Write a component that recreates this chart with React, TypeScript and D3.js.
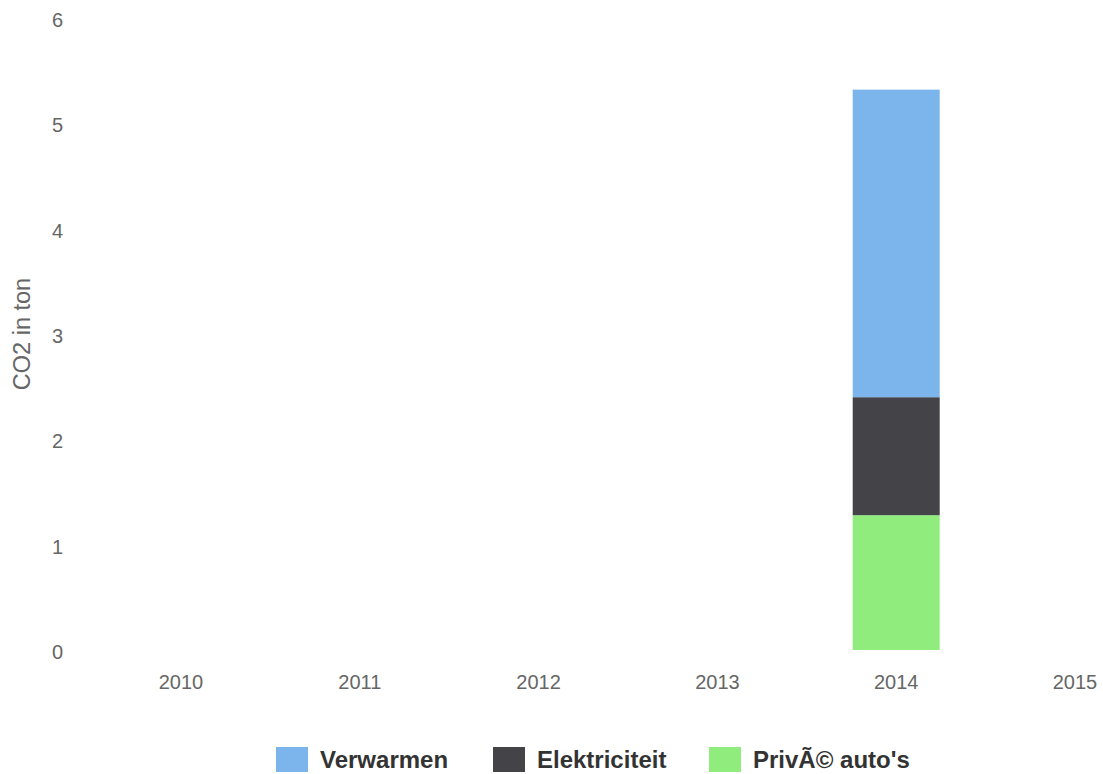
import React from "react";
import * as d3 from "d3";

const years = [2010, 2011, 2012, 2013, 2014, 2015];
const verwarmen: (number | null)[] = [null, null, null, null, 2.92, null];
const elektriciteit: (number | null)[] = [null, null, null, null, 1.12, null];
const priveAutos: (number | null)[] = [null, null, null, null, 1.28, null];
const yTicks = [0, 1, 2, 3, 4, 5, 6];

const seriesNames = ["Verwarmen", "Elektriciteit", "PrivÃ© auto's"];
const seriesColors = ["#7cb5ec", "#434348", "#90ed7d"];

const W = 1103;
const H = 774;

export default function App() {
  const x = d3.scaleLinear().domain([2010, 2015]).range([181, 1075]);
  const y = d3.scaleLinear().domain([0, 6]).range([650, 18]);
  const barW = 87;

  // stack order bottom -> top: Privé, Elektriciteit, Verwarmen
  const rows = years.map((yr, i) => ({
    year: yr,
    prive: priveAutos[i] ?? 0,
    elek: elektriciteit[i] ?? 0,
    verw: verwarmen[i] ?? 0,
  }));
  const stack = d3.stack<any>().keys(["prive", "elek", "verw"]);
  const stacked = stack(rows);
  const colorFor: Record<string, string> = {
    prive: seriesColors[2],
    elek: seriesColors[1],
    verw: seriesColors[0],
  };

  const font = "'Liberation Sans', Arial, Helvetica, sans-serif";
  const legendX = [276, 493, 709];

  return (
    <svg
      width={W}
      height={H}
      style={{ position: "absolute", left: 0, top: 0, background: "#fff" }}
      fontFamily={font}
    >
      {stacked.map((s) =>
        s.map((d, i) =>
          d[1] - d[0] > 0 ? (
            <rect
              key={s.key + i}
              x={x(rows[i].year) - barW / 2}
              y={y(d[1])}
              width={barW}
              height={y(d[0]) - y(d[1])}
              fill={colorFor[s.key]}
            />
          ) : null
        )
      )}
      {yTicks.map((t) => (
        <text
          key={t}
          x={63}
          y={y(t) + 9}
          textAnchor="end"
          fontSize={20}
          fill="#666666"
        >
          {t}
        </text>
      ))}
      {years.map((yr) => (
        <text
          key={yr}
          x={x(yr)}
          y={689}
          textAnchor="middle"
          fontSize={20}
          fill="#666666"
        >
          {yr}
        </text>
      ))}
      <text
        transform={`translate(30, 334) rotate(-90)`}
        textAnchor="middle"
        fontSize={23.5}
        fill="#666666"
      >
        CO2 in ton
      </text>
      {seriesNames.map((n, i) => (
        <g key={n}>
          <rect x={legendX[i]} y={747} width={32} height={25} fill={seriesColors[i]} />
          <text
            x={legendX[i] + 44}
            y={768}
            fontSize={24}
            fontWeight="bold"
            fill="#333333"
          >
            {n}
          </text>
        </g>
      ))}
    </svg>
  );
}
